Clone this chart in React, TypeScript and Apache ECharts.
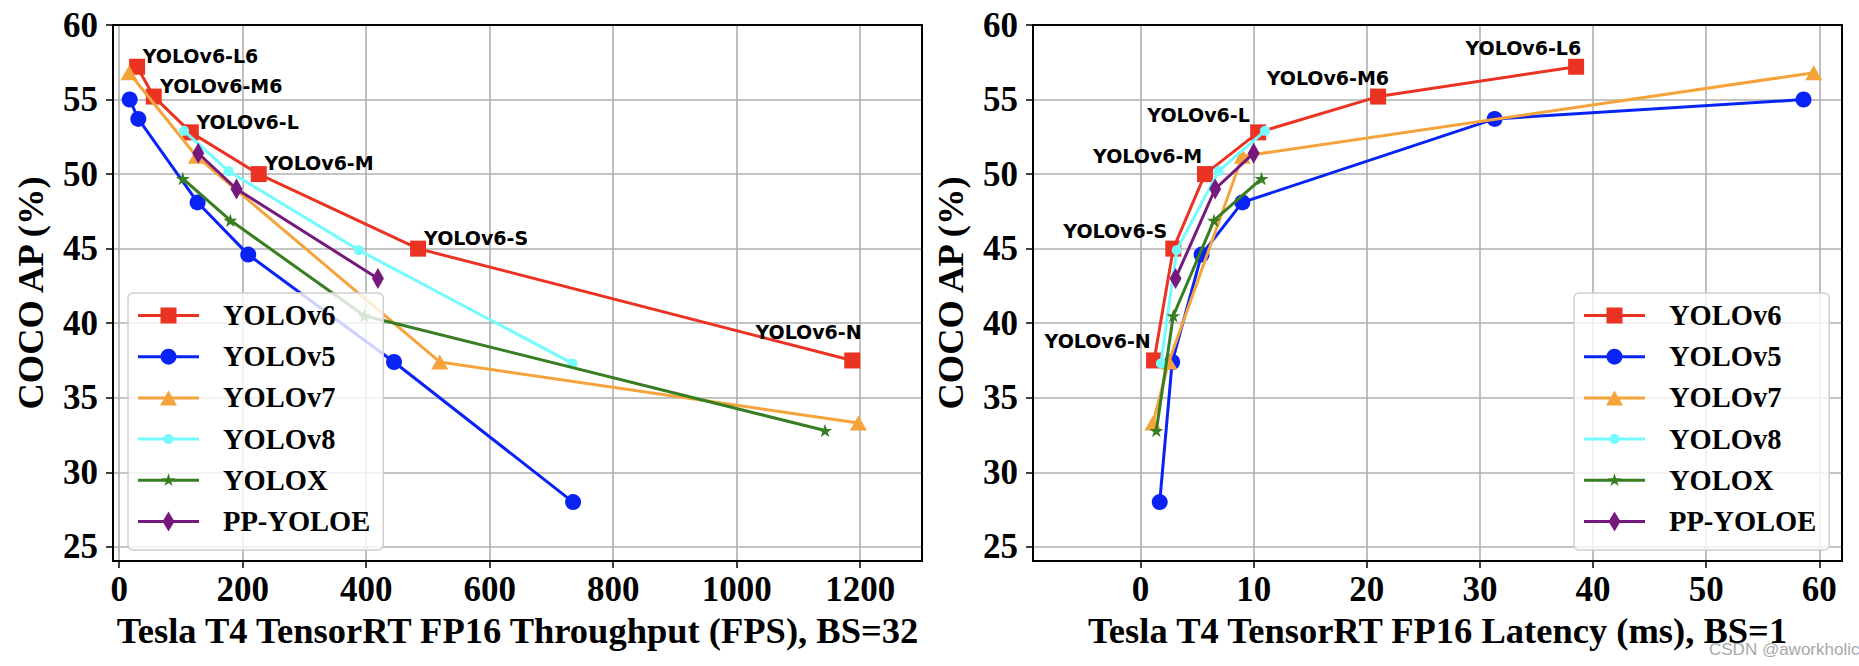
import React, { useEffect, useRef } from 'react';
import * as echarts from 'echarts';

// ---------------- data ----------------
const seriesNames = ['YOLOv6', 'YOLOv5', 'YOLOv7', 'YOLOv8', 'YOLOX', 'PP-YOLOE'];
const yolov6Labels = ['YOLOv6-N', 'YOLOv6-S', 'YOLOv6-M', 'YOLOv6-L', 'YOLOv6-M6', 'YOLOv6-L6'];

const yolov6AP = [37.5, 45.0, 50.0, 52.8, 55.2, 57.2];
const yolov6FPS = [1187, 484, 226, 116, 56, 29];
const yolov6Lat = [1.2, 2.9, 5.7, 10.4, 21.0, 38.5];

const yolov5AP = [28.0, 37.4, 44.6, 48.1, 53.7, 55.0];
const yolov5FPS = [735, 445, 209, 127, 31, 17];
const yolov5Lat = [1.7, 2.8, 5.4, 9.0, 31.3, 58.6];

const yolov7AP = [33.3, 37.4, 51.2, 56.8];
const yolov7FPS = [1197, 519, 125, 16];
const yolov7Lat = [1.1, 2.5, 9.0, 59.5];

const yolov8AP = [37.3, 44.9, 50.2, 52.9];
const yolov8FPS = [734, 388, 177, 105];
const yolov8Lat = [1.8, 3.2, 6.9, 11.0];

const yoloxAP = [32.8, 40.5, 46.9, 49.7];
const yoloxFPS = [1143, 397, 180, 103];
const yoloxLat = [1.4, 2.9, 6.5, 10.7];

const ppyoloeAP = [43.0, 49.0, 51.4];
const ppyoloeFPS = [419, 190, 128];
const ppyoloeLat = [3.1, 6.6, 10.0];

const fpsTicks = [0, 200, 400, 600, 800, 1000, 1200];
const latTicks = [0, 10, 20, 30, 40, 50, 60];
const apTicks = [25, 30, 35, 40, 45, 50, 55, 60];

const fpsTitle = 'Tesla T4 TensorRT FP16 Throughput (FPS), BS=32';
const latTitle = 'Tesla T4 TensorRT FP16 Latency (ms), BS=1';
const apTitle = 'COCO AP (%)';
const watermark = 'CSDN @aworkholic';

// ---------------- styles ----------------
const SERIF = '"Liberation Serif", "Times New Roman", serif';
const COLORS = ['#EB3323', '#0A23F5', '#F4A43B', '#74FBFD', '#377D22', '#751A7C'];
const STAR =
  'path://M10 0L12.245 6.91L19.511 6.91L13.633 11.18L15.878 18.09L10 13.82L4.122 18.09L6.367 11.18L0.489 6.91L7.755 6.91Z';
const SYMBOLS = ['rect', 'circle', 'triangle', 'circle', STAR, 'diamond'];
const SYMBOL_SIZES: any[] = [16, 16, [17, 15], 10, [14, 13.5], [12, 21]];

const ICON_BASE =
  'M0 8.5H61V11.5H0Z M0 0h0.01v0.01h-0.01Z M0 19.99h0.01v0.01h-0.01Z M79.99 0h0.01v0.01h-0.01Z ';
const ICON_SHAPES = [
  'M22.5 2H38.5V18H22.5Z',
  'M22.5 10A8 8 0 1 1 38.5 10A8 8 0 1 1 22.5 10Z',
  'M30.5 2.5L39 17.5L22 17.5Z',
  'M25.5 10A5 5 0 1 1 35.5 10A5 5 0 1 1 25.5 10Z',
  'M30.5 3L32.07 7.84L37.16 7.84L33.04 10.83L34.61 15.66L30.5 12.67L26.39 15.66L27.96 10.83L23.84 7.84L28.93 7.84Z',
  'M30.5 0L36.5 10L30.5 20L24.5 10Z',
];

// label placement (offset from point, px) for the YOLOv6 annotations
const leftLabelPlacement: any[] = [
  { align: 'right', offset: [9.4, -28] },
  { align: 'left', offset: [6, -11] },
  { align: 'left', offset: [5.7, -10.6] },
  { align: 'left', offset: [5.6, -10.5] },
  { align: 'left', offset: [6.3, -10.9] },
  { align: 'left', offset: [5.6, -10.4] },
];
const rightLabelPlacement: any[] = [
  { align: 'right', offset: [-3.3, -19] },
  { align: 'right', offset: [-6, -18] },
  { align: 'right', offset: [-2.7, -18] },
  { align: 'right', offset: [-8.4, -17.8] },
  { align: 'right', offset: [11, -18.5] },
  { align: 'right', offset: [5, -19] },
];

const GRIDS = [
  { left: 113, top: 25, width: 809, height: 536 },
  { left: 1033, top: 25, width: 809, height: 536 },
];

function zip(xs: number[], ys: number[]) {
  return xs.map((x, i) => [x, ys[i]]);
}

function buildOption() {
  const leftData = [
    zip(yolov6FPS, yolov6AP),
    zip(yolov5FPS, yolov5AP),
    zip(yolov7FPS, yolov7AP),
    zip(yolov8FPS, yolov8AP),
    zip(yoloxFPS, yoloxAP),
    zip(ppyoloeFPS, ppyoloeAP),
  ];
  const rightData = [
    zip(yolov6Lat, yolov6AP),
    zip(yolov5Lat, yolov5AP),
    zip(yolov7Lat, yolov7AP),
    zip(yolov8Lat, yolov8AP),
    zip(yoloxLat, yoloxAP),
    zip(ppyoloeLat, ppyoloeAP),
  ];

  const labelStyle = {
    show: true,
    position: 'inside',
    verticalAlign: 'middle',
    color: '#000',
    fontFamily: '"DejaVu Sans", sans-serif',
    fontWeight: 'bold',
    fontSize: 19,
    textBorderWidth: 0,
  };

  const makeSeries = (data: number[][][], axisIdx: number, placement: any[]) =>
    data.map((pts, si) => ({
      type: 'line',
      name: seriesNames[si],
      xAxisIndex: axisIdx,
      yAxisIndex: axisIdx,
      symbol: SYMBOLS[si],
      symbolSize: SYMBOL_SIZES[si],
      showSymbol: true,
      showAllSymbol: true,
      lineStyle: { color: COLORS[si], width: 3 },
      itemStyle: { color: COLORS[si], borderWidth: 0 },
      emphasis: { disabled: true },
      z: 2 + si * 0.01,
      data: pts.map((p, i) =>
        si === 0
          ? {
              value: p,
              label: { ...labelStyle, formatter: yolov6Labels[i], ...placement[i] },
            }
          : { value: p }
      ),
    }));

  const tickStyle = { show: true, inside: false, length: 7, lineStyle: { color: '#000', width: 1.5 } };
  const tickLabel = (margin: number) => ({
    show: true,
    margin,
    color: '#000',
    fontFamily: SERIF,
    fontWeight: 'bold',
    fontSize: 35,
    formatter: (v: number) => String(v),
  });
  const splitLine = { show: true, lineStyle: { color: '#b0b0b0', width: 1.6 } };
  const nameStyle = { color: '#000', fontFamily: SERIF, fontWeight: 'bold', fontSize: 36.5 };
  const border = { show: true, onZero: false, lineStyle: { color: '#000', width: 2 } };

  const xMain = (grid: number, min: number, max: number, ticks: number[], title: string) => ({
    type: 'value',
    gridIndex: grid,
    position: 'bottom',
    min,
    max,
    name: title,
    nameLocation: 'middle',
    nameGap: 50,
    nameTextStyle: nameStyle,
    axisLine: border,
    axisTick: { ...tickStyle, customValues: ticks },
    axisLabel: { ...tickLabel(11), customValues: ticks },
    splitLine,
    z: 0,
  });
  const xTop = (grid: number, min: number, max: number) => ({
    type: 'value',
    gridIndex: grid,
    position: 'top',
    min,
    max,
    axisLine: border,
    axisTick: { show: false },
    axisLabel: { show: false },
    splitLine: { show: false },
    z: 1,
  });
  const yMain = (grid: number) => ({
    type: 'value',
    gridIndex: grid,
    position: 'left',
    min: 24.05,
    max: 60,
    name: apTitle,
    nameLocation: 'middle',
    nameGap: 64,
    nameTextStyle: nameStyle,
    axisLine: border,
    axisTick: { ...tickStyle, customValues: apTicks },
    axisLabel: { ...tickLabel(15), customValues: apTicks },
    splitLine,
    z: 0,
  });
  const yRight = (grid: number) => ({
    type: 'value',
    gridIndex: grid,
    position: 'right',
    min: 24.05,
    max: 60,
    axisLine: border,
    axisTick: { show: false },
    axisLabel: { show: false },
    splitLine: { show: false },
    z: 1,
  });

  const legendBase = {
    orient: 'vertical',
    top: 293,
    padding: [8, 13, 14, 10],
    itemWidth: 80,
    itemHeight: 20,
    itemGap: 12.2,
    backgroundColor: 'rgba(255,255,255,0.8)',
    borderColor: '#d0d0d0',
    borderWidth: 1.5,
    borderRadius: 5,
    selectedMode: false,
    textStyle: { fontFamily: SERIF, fontWeight: 'bold', fontSize: 28.5, color: '#000' },
    itemStyle: { borderWidth: 0 },
    data: seriesNames.map((n, i) => ({ name: n, icon: 'path://' + ICON_BASE + ICON_SHAPES[i] })),
    z: 10,
  };

  return {
    animation: false,
    backgroundColor: '#fff',
    grid: GRIDS.map((g) => ({ ...g, containLabel: false })),
    xAxis: [
      xMain(0, -10, 1300, fpsTicks, fpsTitle),
      xTop(0, -10, 1300),
      xMain(1, -9.5, 62, latTicks, latTitle),
      xTop(1, -9.5, 62),
    ],
    yAxis: [yMain(0), yRight(0), yMain(1), yRight(1)],
    legend: [
      { ...legendBase, left: 128 },
      { ...legendBase, left: 1574 },
    ],
    graphic: [
      {
        type: 'text',
        left: 1709,
        top: 641,
        style: {
          text: watermark,
          fill: '#a8a8a8',
          fontSize: 17,
          fontFamily: '"Liberation Sans", Arial, sans-serif',
        },
      },
    ],
    series: [
      ...makeSeries(leftData, 0, leftLabelPlacement),
      ...makeSeries(rightData, 2, rightLabelPlacement),
    ],
  };
}

export default function App() {
  const ref = useRef<HTMLDivElement>(null);
  useEffect(() => {
    document.body.style.margin = '0';
    if (!ref.current) return;
    const chart = echarts.init(ref.current, undefined, { renderer: 'svg' });
    chart.setOption(buildOption() as any);
    return () => chart.dispose();
  }, []);
  return <div ref={ref} style={{ width: 1859, height: 666 }} />;
}
